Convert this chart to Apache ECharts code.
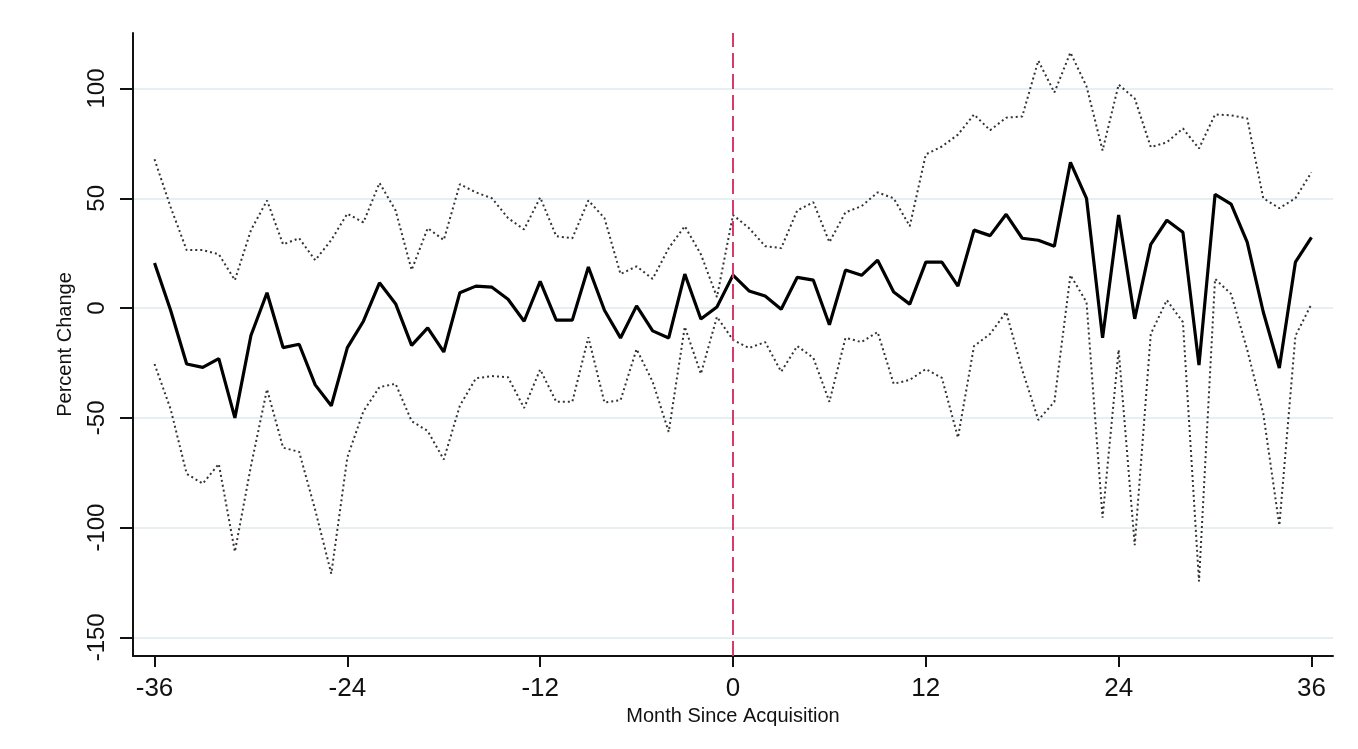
<!DOCTYPE html>
<html>
<head>
<meta charset="utf-8">
<title>Percent Change by Month Since Acquisition</title>
<script src="https://cdn.jsdelivr.net/npm/echarts@6/dist/echarts.min.js"></script>
<style>
  html, body { margin: 0; padding: 0; background: #ffffff; }
  #chart { width: 1358px; height: 749px; }
</style>
</head>
<body>
<div id="chart"></div>
<script>
// Months relative to the acquisition date
const months = [
  -36, -35, -34, -33, -32, -31, -30, -29, -28, -27, -26, -25,
  -24, -23, -22, -21, -20, -19, -18, -17, -16, -15, -14, -13,
  -12, -11, -10, -9, -8, -7, -6, -5, -4, -3, -2, -1,
  0, 1, 2, 3, 4, 5, 6, 7, 8, 9, 10, 11,
  12, 13, 14, 15, 16, 17, 18, 19, 20, 21, 22, 23,
  24, 25, 26, 27, 28, 29, 30, 31, 32, 33, 34, 35, 36
];

// Point estimate of the percent change
const estimate = [
  20.5, -1, -25.5, -27, -23, -50, -12.5, 7, -18, -16.5, -35, -44.5,
  -18, -6, 11.5, 2, -17, -9, -20, 7, 10, 9.5, 4, -6,
  12.2, -5.5, -5.5, 18.7, -1, -13.6, 1, -10.4, -13.6, 15.5, -5, 0.5,
  15, 7.8, 5.5, -0.5, 14, 12.7, -7.6, 17.3, 14.9, 21.8, 7.3, 1.8,
  20.9, 20.9, 10, 35.5, 33, 42.7, 31.8, 30.9, 28.2, 66.4, 50, -13.6,
  42.4, -4.9, 29, 40, 34.5, -26, 51.8, 47.3, 30, -1.8, -27.3, 20.9, 32.2
];

// Upper bound of the confidence interval
const upperBound = [
  67.8, 46, 26.4, 26.4, 24.5, 12.7, 35.5, 49, 29, 31.8, 21.8, 31,
  43, 39, 57, 44.5, 17.3, 36.4, 31, 56.4, 52.7, 50, 41, 35.8,
  50.4, 32.7, 31.8, 49, 41, 15.5, 19, 13.3, 27.3, 37.3, 24.5, 5,
  42.4, 36.4, 28.2, 27.3, 44.5, 48.2, 30, 43.6, 46.4, 52.7, 50, 37.3,
  70, 73.6, 79, 88.2, 81, 86.7, 87.3, 112.7, 98.2, 116.4, 101, 71.8,
  101.8, 95.5, 73.3, 75.5, 81.8, 72.7, 88.2, 87.8, 86.4, 50, 45.5, 50, 61.8
];

// Lower bound of the confidence interval
const lowerBound = [
  -25.5, -46, -75.5, -80, -71, -111, -72, -37, -63.6, -65.5, -92, -121,
  -68, -47, -36, -34.5, -51.5, -56, -69, -44.5, -32, -31, -31.5, -45.5,
  -28, -42.7, -42.7, -13.3, -43, -42, -18.7, -33.6, -56.4, -8.5, -30, -4,
  -14.5, -18.2, -15.5, -29, -17.3, -22.7, -42.7, -13.6, -15.5, -10.9, -34.5, -32.7,
  -27.8, -31.8, -59, -17.3, -11.8, -1.8, -28.2, -51, -42.7, 15, 2.7, -95.5,
  -19, -108, -11.8, 3.6, -6.4, -124.5, 13.3, 6.4, -19, -48, -99, -12.7, 1.8
];

// Tick labels on both axes
const xTicks = [-36, -24, -12, 0, 12, 24, 36];
const yTicks = [-150, -100, -50, 0, 50, 100];

const pair = (vals) => months.map((m, i) => [m, vals[i]]);
const FONT = '"Liberation Sans", Arial, sans-serif';

const chart = echarts.init(document.getElementById('chart'), null, { renderer: 'canvas' });

chart.setOption({
  animation: false,
  backgroundColor: '#ffffff',
  grid: { left: 133, right: 25, top: 33, bottom: 93, containLabel: false },
  xAxis: {
    type: 'value',
    min: -37.34,
    max: 37.34,
    name: 'Month Since Acquisition',
    nameLocation: 'middle',
    nameGap: 47,
    nameTextStyle: { fontFamily: FONT, fontSize: 20, color: '#111' },
    axisLine: { show: true, onZero: false, lineStyle: { color: '#111', width: 2 } },
    axisTick: { show: true, customValues: xTicks, length: 11, lineStyle: { color: '#111', width: 2 } },
    axisLabel: { customValues: xTicks, fontFamily: FONT, fontSize: 26, color: '#111', margin: 20 },
    splitLine: { show: false }
  },
  yAxis: {
    type: 'value',
    min: -158.5,
    max: 125.3,
    name: 'Percent Change',
    nameLocation: 'middle',
    nameGap: 58,
    nameTextStyle: { fontFamily: FONT, fontSize: 20, color: '#111' },
    axisLine: { show: true, onZero: false, lineStyle: { color: '#111', width: 2 } },
    axisTick: { show: true, customValues: yTicks, length: 13, lineStyle: { color: '#111', width: 2 } },
    axisLabel: { customValues: yTicks, rotate: 90, fontFamily: FONT, fontSize: 24, color: '#111', margin: 24 },
    splitLine: { show: true, lineStyle: { color: '#e6eff2', width: 2 } }
  },
  series: [
    {
      name: 'Upper bound',
      type: 'line',
      data: pair(upperBound),
      showSymbol: false,
      lineStyle: { color: '#333333', width: 2, type: [2, 3] },
      z: 2
    },
    {
      name: 'Lower bound',
      type: 'line',
      data: pair(lowerBound),
      showSymbol: false,
      lineStyle: { color: '#333333', width: 2, type: [2, 3] },
      z: 2
    },
    {
      name: 'Estimate',
      type: 'line',
      data: pair(estimate),
      showSymbol: false,
      lineStyle: { color: '#000000', width: 3.2 },
      z: 3,
      markLine: {
        silent: true,
        symbol: ['none', 'none'],
        label: { show: false },
        lineStyle: { color: '#d63c6a', width: 2, type: [15, 6] },
        data: [{ xAxis: 0 }]
      }
    }
  ]
});
</script>
</body>
</html>
